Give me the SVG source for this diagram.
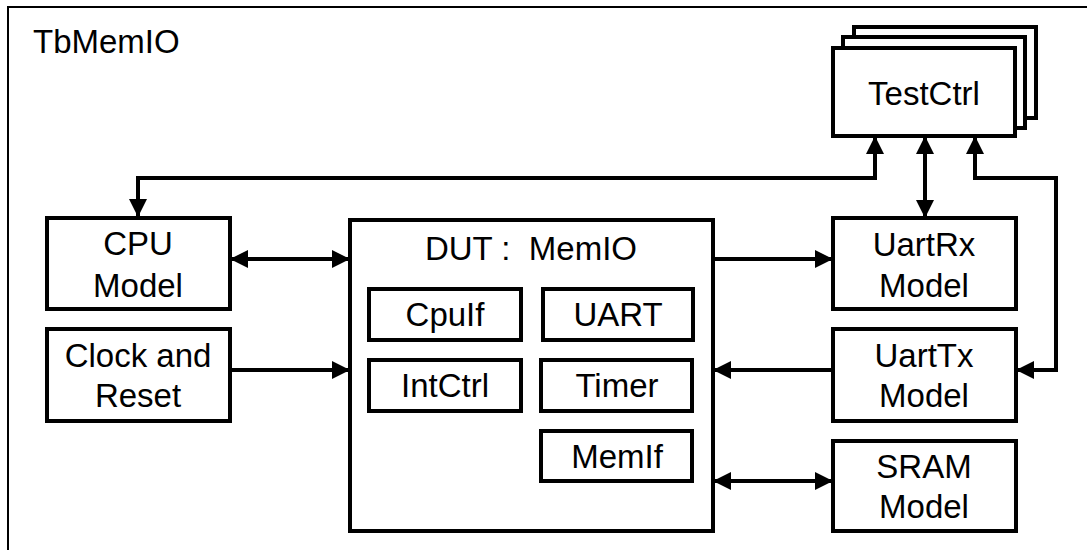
<svg xmlns="http://www.w3.org/2000/svg" width="1087" height="550" viewBox="0 0 1087 550">
<style>
.box{fill:#fff;stroke:#000;stroke-width:4}
.frame{fill:none;stroke:#000;stroke-width:2}
.t{font-family:"Liberation Sans",Arial,sans-serif;font-size:33px;fill:#000;text-anchor:middle}
.c{fill:none;stroke:#000;stroke-width:4}
</style>
<defs>
<marker id="ah" viewBox="0 0 18 18" refX="18" refY="9" markerWidth="18" markerHeight="18" markerUnits="userSpaceOnUse" orient="auto-start-reverse">
<path d="M0,0 L18,9 L0,18 Z" fill="#000"/>
</marker>
</defs>
<rect width="1087" height="550" fill="#fff"/>
<g id="tb">
<path class="frame" d="M8,560 L8,7 L1095,7"/>
<text class="t" x="33" y="53" style="text-anchor:start">TbMemIO</text>
</g>
<g id="testctrl">
<rect class="box" x="854" y="27" width="182" height="91"/>
<rect class="box" x="843" y="37" width="182" height="91"/>
<rect class="box" x="833" y="48" width="182" height="88"/>
<text class="t" x="924" y="105">TestCtrl</text>
</g>
<g id="cpu">
<rect class="box" x="47" y="218" width="183" height="91"/>
<text class="t" x="138" y="255">CPU</text>
<text class="t" x="138" y="297">Model</text>
</g>
<g id="clock">
<rect class="box" x="47" y="329" width="183" height="92"/>
<text class="t" x="138" y="367">Clock and</text>
<text class="t" x="138" y="407">Reset</text>
</g>
<g id="dut">
<rect class="box" x="350" y="220" width="363" height="311"/>
<text class="t" x="531" y="260" xml:space="preserve">DUT :  MemIO</text>
</g>
<g id="cpuif">
<rect class="box" x="369" y="289" width="152" height="51"/>
<text class="t" x="445" y="326">CpuIf</text>
</g>
<g id="uart">
<rect class="box" x="543" y="289" width="150" height="51"/>
<text class="t" x="618" y="326">UART</text>
</g>
<g id="intctrl">
<rect class="box" x="369" y="360" width="152" height="51"/>
<text class="t" x="445" y="397">IntCtrl</text>
</g>
<g id="timer">
<rect class="box" x="541" y="360" width="151" height="51"/>
<text class="t" x="617" y="397">Timer</text>
</g>
<g id="memif">
<rect class="box" x="541" y="431" width="151" height="50"/>
<text class="t" x="617" y="468">MemIf</text>
</g>
<g id="uartrx">
<rect class="box" x="833" y="218" width="183" height="91"/>
<text class="t" x="924" y="256">UartRx</text>
<text class="t" x="924" y="297">Model</text>
</g>
<g id="uarttx">
<rect class="box" x="833" y="329" width="183" height="92"/>
<text class="t" x="924" y="367">UartTx</text>
<text class="t" x="924" y="407">Model</text>
</g>
<g id="sram">
<rect class="box" x="833" y="441" width="183" height="90"/>
<text class="t" x="924" y="478">SRAM</text>
<text class="t" x="924" y="518">Model</text>
</g>
<g id="connectors">
<path class="c" d="M138,217 L138,178 L875,178 L875,136" marker-start="url(#ah)" marker-end="url(#ah)"/>
<path class="c" d="M925,136 L925,218" marker-start="url(#ah)" marker-end="url(#ah)"/>
<path class="c" d="M975,136 L975,178 L1056,178 L1056,370 L1016,370" marker-start="url(#ah)" marker-end="url(#ah)"/>
<path class="c" d="M230,259 L350,259" marker-start="url(#ah)" marker-end="url(#ah)"/>
<path class="c" d="M230,370 L350,370" marker-end="url(#ah)"/>
<path class="c" d="M713,259 L833,259" marker-end="url(#ah)"/>
<path class="c" d="M833,370 L713,370" marker-end="url(#ah)"/>
<path class="c" d="M713,481 L833,481" marker-start="url(#ah)" marker-end="url(#ah)"/>
</g>
</svg>
